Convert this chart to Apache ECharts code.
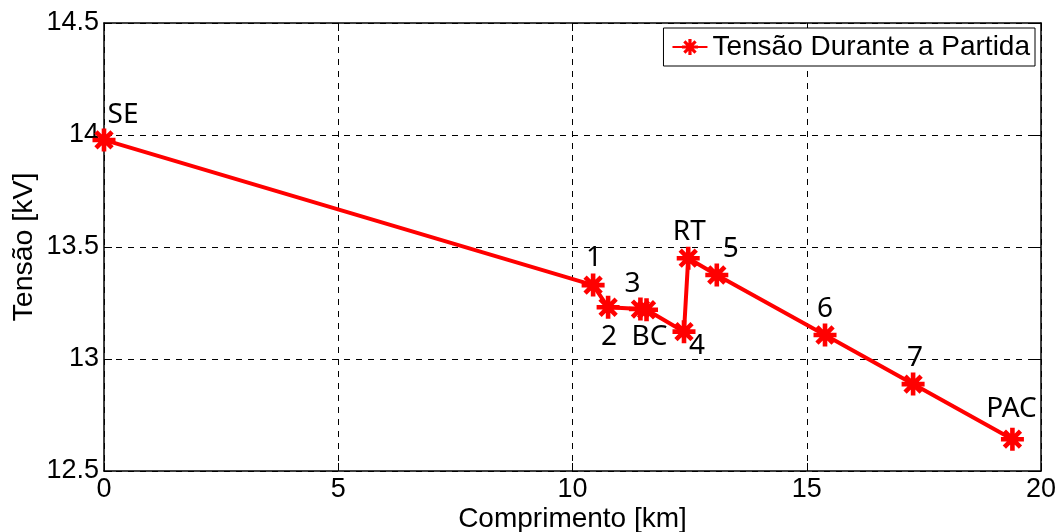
<!DOCTYPE html>
<html>
<head>
<meta charset="utf-8">
<script src="https://cdn.jsdelivr.net/npm/echarts@6/dist/echarts.min.js"></script>
<style>
  html, body { margin: 0; padding: 0; background: #fff; }
  #chart { width: 1058px; height: 532px; }
</style>
</head>
<body>
<div id="chart"></div>
<script>
const FONT = 'Liberation Sans, Arial, sans-serif'
const LABEL_FONT = 'Noto Sans, Open Sans, sans-serif'

// data
const distances = [0, 10.44, 10.76, 11.45, 11.58, 12.38, 12.47, 13.08, 15.39, 17.27, 19.39]
const voltages = [13.978, 13.33, 13.231, 13.223, 13.22, 13.122, 13.45, 13.375, 13.107, 12.888, 12.642]
const pointNames = ['SE', '1', '2', '3', 'BC', '4', 'RT', '5', '6', '7', 'PAC']
const seriesName = 'Tensão Durante a Partida'
const xTicks = [0, 20, 5]
const yTicks = [12.5, 14.5, 0.5]

// where each point label sits, relative to its marker (px)
const labelOffsets = [[19, -25], [1, -27], [1, 30], [-8, -25], [3, 27], [13, 14], [1, -26], [14, -26], [0, -26], [2, -26], [-1, -30]]

// MATLAB-ish '*' marker
const STAR = 'path://M0 8H20V12H0Z M8 0H12V20H8Z M4.41 1.59L18.41 15.59L15.59 18.41L1.59 4.41Z M15.59 1.59L18.41 4.41L4.41 18.41L1.59 15.59Z'

const chart = echarts.init(document.getElementById('chart'))

const seriesData = distances.map((d, i) => ({
  value: [d, voltages[i]],
  label: {
    show: true,
    formatter: pointNames[i],
    position: 'inside',
    offset: labelOffsets[i],
    color: '#000',
    fontSize: 28,
    fontFamily: LABEL_FONT,
  },
}))

const axisCommon = {
  axisLine: { show: true, onZero: false, lineStyle: { color: '#000', width: 1.5 } },
  axisTick: { show: true, inside: true, length: 8, lineStyle: { color: '#000' } },
}

const option = {
  animation: false,
  backgroundColor: '#fff',
  grid: { left: 104, right: 17, top: 23, bottom: 61, outerBoundsMode: 'none', containLabel: false },
  legend: {
    right: 23,
    top: 28,
    data: [seriesName],
    backgroundColor: '#fff',
    borderColor: '#000',
    borderWidth: 1,
    borderRadius: 0,
    padding: [5, 5, 5, 8],
    itemWidth: 35,
    itemHeight: 20,
    textStyle: { fontSize: 28, color: '#000', fontFamily: FONT },
  },
  xAxis: [
    {
      type: 'value',
      min: xTicks[0], max: xTicks[1], interval: xTicks[2],
      name: 'Comprimento [km]',
      nameLocation: 'middle',
      nameGap: 34,
      nameMoveOverlap: false,
      nameTextStyle: { fontSize: 28, color: '#000', fontFamily: FONT },
      ...axisCommon,
      axisLabel: { fontSize: 27, color: '#000', fontFamily: FONT, margin: 5 },
      splitLine: { show: true, lineStyle: { color: '#000', type: [6, 6], width: 1 } },
    },
    {
      type: 'value', position: 'top',
      min: xTicks[0], max: xTicks[1], interval: xTicks[2],
      ...axisCommon,
      axisLabel: { show: false },
      splitLine: { show: false },
    },
  ],
  yAxis: [
    {
      type: 'value',
      min: yTicks[0], max: yTicks[1], interval: yTicks[2],
      name: 'Tensão [kV]',
      nameLocation: 'middle',
      nameGap: 65,
      nameMoveOverlap: false,
      nameTextStyle: { fontSize: 28.5, color: '#000', fontFamily: FONT },
      ...axisCommon,
      axisLabel: { fontSize: 27, color: '#000', fontFamily: FONT, margin: 5 },
      splitLine: { show: true, lineStyle: { color: '#000', type: [6, 6], width: 1 } },
    },
    {
      type: 'value', position: 'right',
      min: yTicks[0], max: yTicks[1], interval: yTicks[2],
      ...axisCommon,
      axisLabel: { show: false },
      splitLine: { show: false },
    },
  ],
  series: [
    {
      name: seriesName,
      type: 'line',
      data: seriesData,
      symbol: STAR,
      symbolSize: 23,
      showAllSymbol: true,
      lineStyle: { color: '#ff0000', width: 4 },
      itemStyle: { color: '#ff0000' },
      z: 5,
    },
  ],
}

chart.setOption(option)
</script>
</body>
</html>
